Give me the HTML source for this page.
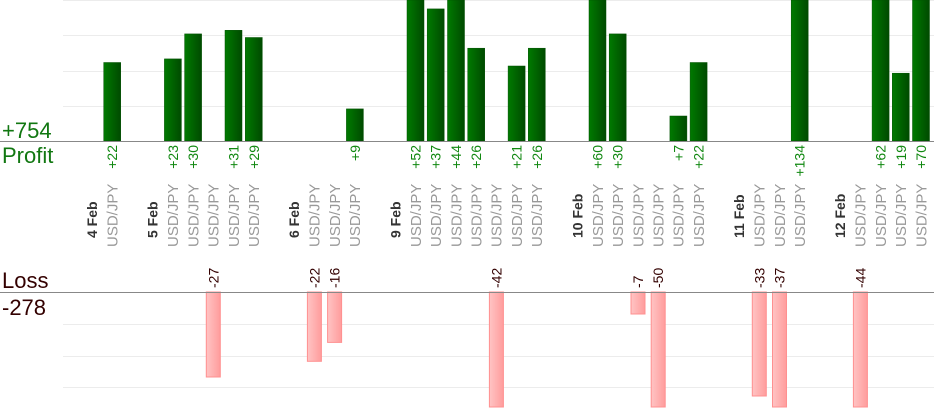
<!DOCTYPE html>
<html><head><meta charset="utf-8"><style>
html,body{margin:0;padding:0;background:#fff;}
svg{display:block;font-family:"Liberation Sans",sans-serif;}
.pv{fill:#118811;font-size:14px;text-anchor:end;}
.lv{fill:#330000;font-size:14px;text-anchor:start;}
.u{fill:#999;font-size:15px;}
.d{fill:#333;font-size:14px;font-weight:bold;}
</style></head><body>
<svg width="934" height="420" viewBox="0 0 934 420" xmlns="http://www.w3.org/2000/svg">
<defs>
<linearGradient id="g" x1="0" x2="1" y1="0" y2="0"><stop offset="0" stop-color="#007a00"/><stop offset="1" stop-color="#004a00"/></linearGradient>
<linearGradient id="r" x1="0" x2="1" y1="0" y2="0"><stop offset="0" stop-color="#ffc4c4"/><stop offset="1" stop-color="#ff9c9c"/></linearGradient>
</defs>
<g stroke="#ececec" stroke-width="1">
<line x1="63" x2="934" y1="0.5" y2="0.5"/><line x1="63" x2="934" y1="35.5" y2="35.5"/><line x1="63" x2="934" y1="71.5" y2="71.5"/><line x1="63" x2="934" y1="106.5" y2="106.5"/>
<line x1="63" x2="934" y1="324.5" y2="324.5"/><line x1="63" x2="934" y1="356.5" y2="356.5"/><line x1="63" x2="934" y1="387.5" y2="387.5"/>
</g>
<g fill="url(#g)" stroke="#005000" stroke-width="0.5">
<rect x="103.7" y="62.5" width="17" height="78.5"/>
<rect x="164.4" y="58.9" width="17" height="82.1"/>
<rect x="184.6" y="33.9" width="17" height="107.1"/>
<rect x="225" y="30.3" width="17" height="110.7"/>
<rect x="245.3" y="37.5" width="17" height="103.5"/>
<rect x="346.4" y="108.9" width="17" height="32.1"/>
<rect x="407" y="0" width="17" height="141"/>
<rect x="427.2" y="8.9" width="17" height="132.1"/>
<rect x="447.5" y="0" width="17" height="141"/>
<rect x="467.7" y="48.2" width="17" height="92.8"/>
<rect x="508.1" y="66" width="17" height="75"/>
<rect x="528.3" y="48.2" width="17" height="92.8"/>
<rect x="589" y="0" width="17" height="141"/>
<rect x="609.2" y="33.9" width="17" height="107.1"/>
<rect x="669.9" y="116" width="17" height="25"/>
<rect x="690.1" y="62.5" width="17" height="78.5"/>
<rect x="791.2" y="0" width="17" height="141"/>
<rect x="872.1" y="0" width="17" height="141"/>
<rect x="892.3" y="73.2" width="17" height="67.8"/>
<rect x="912.5" y="0" width="17" height="141"/>
</g>
<g fill="url(#r)" stroke="#ff9090" stroke-width="1">
<rect x="206.3" y="292" width="14" height="85"/>
<rect x="307.4" y="292" width="14" height="69.3"/>
<rect x="327.6" y="292" width="14" height="50.4"/>
<rect x="489.4" y="292" width="14" height="115"/>
<rect x="631" y="292" width="14" height="22"/>
<rect x="651.2" y="292" width="14" height="115"/>
<rect x="752.3" y="292" width="14" height="104"/>
<rect x="772.5" y="292" width="14" height="115"/>
<rect x="853.4" y="292" width="14" height="115"/>
</g>
<line x1="0" x2="934" y1="141.5" y2="141.5" stroke="#888"/>
<line x1="0" x2="934" y1="292.5" y2="292.5" stroke="#888"/>
<text x="2" y="138" fill="#117711" font-size="22">+754</text>
<text x="2" y="163" fill="#117711" font-size="22">Profit</text>
<text x="2" y="288" fill="#330000" font-size="22">Loss</text>
<text x="2" y="315" fill="#330000" font-size="22">-278</text>
<text class="pv" transform="translate(117.2,145) rotate(-90)">+22</text>
<text class="pv" transform="translate(177.9,145) rotate(-90)">+23</text>
<text class="pv" transform="translate(198.1,145) rotate(-90)">+30</text>
<text class="pv" transform="translate(238.5,145) rotate(-90)">+31</text>
<text class="pv" transform="translate(258.8,145) rotate(-90)">+29</text>
<text class="pv" transform="translate(359.9,145) rotate(-90)">+9</text>
<text class="pv" transform="translate(420.5,145) rotate(-90)">+52</text>
<text class="pv" transform="translate(440.7,145) rotate(-90)">+37</text>
<text class="pv" transform="translate(461,145) rotate(-90)">+44</text>
<text class="pv" transform="translate(481.2,145) rotate(-90)">+26</text>
<text class="pv" transform="translate(521.6,145) rotate(-90)">+21</text>
<text class="pv" transform="translate(541.8,145) rotate(-90)">+26</text>
<text class="pv" transform="translate(602.5,145) rotate(-90)">+60</text>
<text class="pv" transform="translate(622.7,145) rotate(-90)">+30</text>
<text class="pv" transform="translate(683.4,145) rotate(-90)">+7</text>
<text class="pv" transform="translate(703.6,145) rotate(-90)">+22</text>
<text class="pv" transform="translate(804.7,145) rotate(-90)">+134</text>
<text class="pv" transform="translate(885.6,145) rotate(-90)">+62</text>
<text class="pv" transform="translate(905.8,145) rotate(-90)">+19</text>
<text class="pv" transform="translate(926,145) rotate(-90)">+70</text>
<text class="lv" transform="translate(218.3,288) rotate(-90)">-27</text>
<text class="lv" transform="translate(319.4,288) rotate(-90)">-22</text>
<text class="lv" transform="translate(339.6,288) rotate(-90)">-16</text>
<text class="lv" transform="translate(501.4,288) rotate(-90)">-42</text>
<text class="lv" transform="translate(643,288) rotate(-90)">-7</text>
<text class="lv" transform="translate(663.2,288) rotate(-90)">-50</text>
<text class="lv" transform="translate(764.3,288) rotate(-90)">-33</text>
<text class="lv" transform="translate(784.5,288) rotate(-90)">-37</text>
<text class="lv" transform="translate(865.4,288) rotate(-90)">-44</text>
<text class="d" transform="translate(97,238) rotate(-90)">4 Feb</text>
<text class="d" transform="translate(157.5,238) rotate(-90)">5 Feb</text>
<text class="d" transform="translate(299.2,238) rotate(-90)">6 Feb</text>
<text class="d" transform="translate(400.3,238) rotate(-90)">9 Feb</text>
<text class="d" transform="translate(582.3,238) rotate(-90)">10 Feb</text>
<text class="d" transform="translate(744,238) rotate(-90)">11 Feb</text>
<text class="d" transform="translate(845.1,238) rotate(-90)">12 Feb</text>
<g class="u">
<text transform="translate(117.5,247) rotate(-90)">USD/JPY</text>
<text transform="translate(178.2,247) rotate(-90)">USD/JPY</text>
<text transform="translate(198.4,247) rotate(-90)">USD/JPY</text>
<text transform="translate(218.6,247) rotate(-90)">USD/JPY</text>
<text transform="translate(238.8,247) rotate(-90)">USD/JPY</text>
<text transform="translate(259.1,247) rotate(-90)">USD/JPY</text>
<text transform="translate(319.7,247) rotate(-90)">USD/JPY</text>
<text transform="translate(339.9,247) rotate(-90)">USD/JPY</text>
<text transform="translate(360.2,247) rotate(-90)">USD/JPY</text>
<text transform="translate(420.8,247) rotate(-90)">USD/JPY</text>
<text transform="translate(441,247) rotate(-90)">USD/JPY</text>
<text transform="translate(461.3,247) rotate(-90)">USD/JPY</text>
<text transform="translate(481.5,247) rotate(-90)">USD/JPY</text>
<text transform="translate(501.7,247) rotate(-90)">USD/JPY</text>
<text transform="translate(521.9,247) rotate(-90)">USD/JPY</text>
<text transform="translate(542.1,247) rotate(-90)">USD/JPY</text>
<text transform="translate(602.8,247) rotate(-90)">USD/JPY</text>
<text transform="translate(623,247) rotate(-90)">USD/JPY</text>
<text transform="translate(643.3,247) rotate(-90)">USD/JPY</text>
<text transform="translate(663.5,247) rotate(-90)">USD/JPY</text>
<text transform="translate(683.7,247) rotate(-90)">USD/JPY</text>
<text transform="translate(703.9,247) rotate(-90)">USD/JPY</text>
<text transform="translate(764.6,247) rotate(-90)">USD/JPY</text>
<text transform="translate(784.8,247) rotate(-90)">USD/JPY</text>
<text transform="translate(805,247) rotate(-90)">USD/JPY</text>
<text transform="translate(865.7,247) rotate(-90)">USD/JPY</text>
<text transform="translate(885.9,247) rotate(-90)">USD/JPY</text>
<text transform="translate(906.1,247) rotate(-90)">USD/JPY</text>
<text transform="translate(926.3,247) rotate(-90)">USD/JPY</text>
</g>
</svg>
</body></html>
